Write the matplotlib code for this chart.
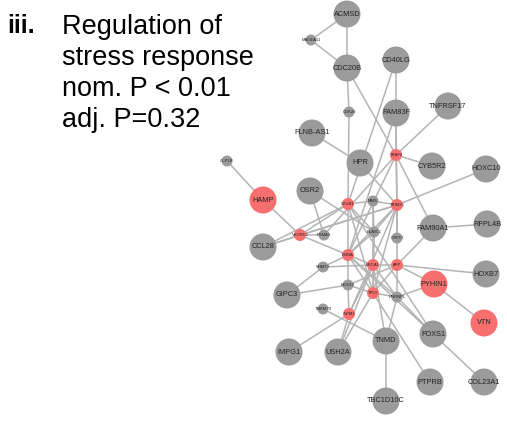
import matplotlib
matplotlib.use('Agg')
import matplotlib.pyplot as plt
from matplotlib.patches import Circle

plt.rcParams['font.family'] = ['Liberation Sans', 'DejaVu Sans']

# node name -> (x, y) in layout units, hit flag (red), size class
big_nodes = ['ACMSD', 'CDC20B', 'CD40LG', 'FAM83F', 'TNFRSF17', 'FLNB-AS1', 'HPR',
             'CYB5R2', 'HOXC10', 'OSR2', 'HAMP', 'FAM90A1', 'RFPL4B', 'CCL28',
             'GIPC3', 'PYHIN1', 'HOXB7', 'VTN', 'FOXS1', 'TNMD', 'IMPG1', 'USH2A',
             'PTPRB', 'COL23A1', 'TBC1D10C']
big_x = [347, 347, 396, 396, 448, 312, 360, 432, 486, 310, 263, 433, 487, 263,
         287, 434, 486, 484, 433, 386, 289, 338, 430, 484, 386]
big_y = [14, 68, 60, 113, 106, 133, 163, 166, 169, 191, 200, 228, 224, 247,
         295, 284, 274, 323, 334, 341, 352, 352, 382, 382, 401]

small_nodes = ['MAGEA11', 'CDK20', 'GLP1R', 'TRAF2', 'STUB1', 'MMS', 'TRIM25',
               'VKORC1', 'PSMA3', 'ELAVL1', 'ORF57', 'LMNA', 'SHMT2', 'BRCA1',
               'APP', 'MOV10', 'TP53', 'HNRNPL', 'TMEM79', 'NPM1']
small_x = [311, 349, 227, 396, 348, 373, 397, 300, 324, 374, 397, 348, 323, 373,
           397, 348, 373, 397, 323, 349]
small_y = [40, 112, 161, 155, 204, 201, 205, 235, 235, 232, 238, 255, 267, 265,
           265, 285, 293, 297, 309, 314]

red_nodes = ['HAMP', 'PYHIN1', 'VTN', 'TRAF2', 'STUB1', 'TRIM25', 'VKORC1',
             'LMNA', 'BRCA1', 'APP', 'TP53', 'NPM1']

edges = [
    ('ACMSD', 'CDC20B'), ('MAGEA11', 'ACMSD'), ('MAGEA11', 'CDC20B'),
    ('CDC20B', 'CDK20'), ('CDK20', 'STUB1'), ('STUB1', 'LMNA'),
    ('LMNA', 'MOV10'), ('MOV10', 'NPM1'), ('CDC20B', 'TRAF2'),
    ('TRAF2', 'FAM90A1'), ('CD40LG', 'FAM83F'), ('CD40LG', 'STUB1'),
    ('FAM83F', 'TRAF2'), ('FAM83F', 'LMNA'), ('FAM83F', 'TRIM25'),
    ('TNFRSF17', 'TRAF2'), ('FLNB-AS1', 'HPR'), ('GLP1R', 'HAMP'),
    ('HAMP', 'VKORC1'), ('OSR2', 'PSMA3'), ('OSR2', 'ELAVL1'),
    ('CCL28', 'VKORC1'), ('CCL28', 'STUB1'), ('CCL28', 'TRIM25'),
    ('VKORC1', 'PSMA3'), ('VKORC1', 'STUB1'), ('VKORC1', 'LMNA'),
    ('VKORC1', 'TRIM25'), ('PSMA3', 'TRAF2'), ('HPR', 'TRIM25'),
    ('TRAF2', 'CYB5R2'), ('TRAF2', 'TRIM25'), ('TRAF2', 'LMNA'),
    ('TRIM25', 'HOXC10'), ('STUB1', 'MMS'), ('MMS', 'TRIM25'),
    ('TRIM25', 'ELAVL1'), ('TRIM25', 'LMNA'), ('TRIM25', 'APP'),
    ('MMS', 'BRCA1'), ('MMS', 'ELAVL1'),
    ('FAM90A1', 'RFPL4B'), ('FAM90A1', 'APP'), ('ELAVL1', 'STUB1'),
    ('ELAVL1', 'TP53'), ('ELAVL1', 'BRCA1'), ('ELAVL1', 'LMNA'),
    ('LMNA', 'SHMT2'), ('LMNA', 'BRCA1'), ('LMNA', 'TP53'),
    ('LMNA', 'HNRNPL'), ('SHMT2', 'GIPC3'), ('SHMT2', 'BRCA1'),
    ('GIPC3', 'MOV10'), ('BRCA1', 'APP'), ('BRCA1', 'TP53'),
    ('BRCA1', 'NPM1'), ('BRCA1', 'HNRNPL'), ('APP', 'HOXB7'),
    ('APP', 'TP53'), ('APP', 'HNRNPL'), ('APP', 'PYHIN1'), ('APP', 'MOV10'),
    ('HNRNPL', 'PYHIN1'), ('HNRNPL', 'FOXS1'), ('HNRNPL', 'TP53'),
    ('HNRNPL', 'TNMD'), ('PYHIN1', 'VTN'), ('TP53', 'PTPRB'),
    ('NPM1', 'IMPG1'), ('NPM1', 'USH2A'), ('TMEM79', 'TNMD'),
    ('USH2A', 'TP53'), ('USH2A', 'BRCA1'), ('FOXS1', 'COL23A1'),
    ('TNMD', 'TBC1D10C'), ('TNMD', 'BRCA1'), ('LMNA', 'FOXS1'),
    ('STUB1', 'FOXS1'), ('MOV10', 'TP53'), ('ORF57', 'TRIM25'),
    ('STUB1', 'TP53'), ('TRIM25', 'TP53'), ('NPM1', 'TRIM25'),
]

pos = {}
for n, x, y in zip(big_nodes, big_x, big_y):
    pos[n] = (x, y)
for n, x, y in zip(small_nodes, small_x, small_y):
    pos[n] = (x, y)

fig = plt.figure(figsize=(5.07, 4.24), dpi=100)
ax = fig.add_axes([0, 0, 1, 1])
ax.set_xlim(0, 507)
ax.set_ylim(424, 0)
ax.set_aspect('equal')
ax.axis('off')

grey = '#9b9b9b'
red = '#f76f6f'

for a, b in edges:
    ax.plot([pos[a][0], pos[b][0]], [pos[a][1], pos[b][1]],
            color='#b4b4b4', lw=1.1, zorder=1)

for n in big_nodes:
    c = red if n in red_nodes else grey
    ax.add_patch(Circle(pos[n], 13.5, color=c, zorder=2, lw=0))
    ax.text(pos[n][0], pos[n][1], n, ha='center', va='center', fontsize=5.3,
            zorder=3, color='#222222')

for n in small_nodes:
    c = red if n in red_nodes else grey
    r = 6 if n in red_nodes else 5.5
    ax.add_patch(Circle(pos[n], r, color=c, zorder=2, lw=0))
    ax.text(pos[n][0], pos[n][1], n, ha='center', va='center', fontsize=3,
            zorder=3, color='#222222')

fig.text(7 / 507, 1 - 33 / 424, 'iii.', fontsize=18, fontweight='bold',
         va='baseline', ha='left')
lines = ['Regulation of', 'stress response', 'nom. P < 0.01', 'adj. P=0.32']
for i, s in enumerate(lines):
    fig.text(62 / 507, 1 - (34 + 31 * i) / 424, s, fontsize=19.5,
             va='baseline', ha='left')

fig.savefig('out.png', dpi=100)
